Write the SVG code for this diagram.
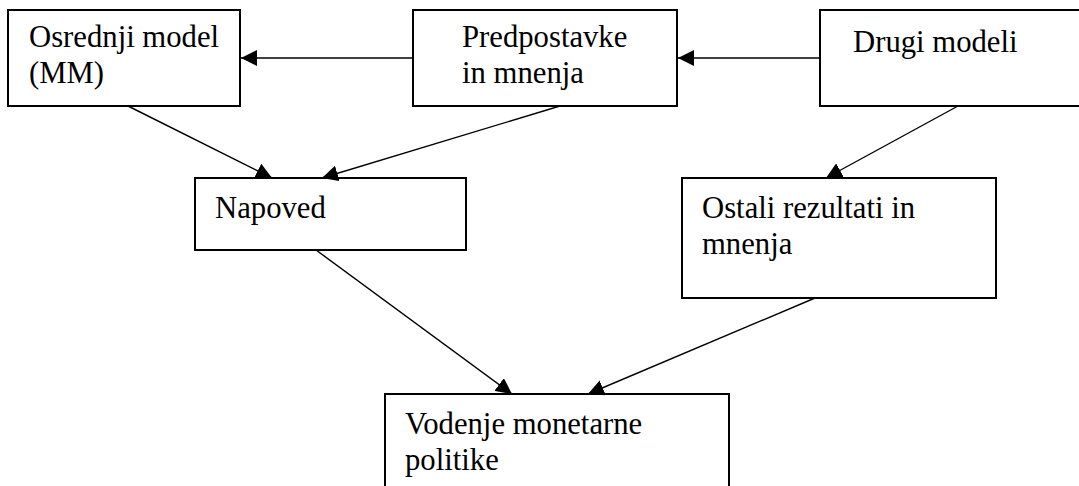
<svg xmlns="http://www.w3.org/2000/svg" width="1079" height="486" viewBox="0 0 1079 486">
<style>
.box{fill:#fff;stroke:#000;stroke-width:2}
.t{font-family:"Liberation Serif","Times New Roman",serif;font-size:30.7px;fill:#000}
.c{stroke:#000;stroke-width:1.4;fill:none;marker-end:url(#ah)}
</style>
<defs>
<marker id="ah" markerUnits="userSpaceOnUse" markerWidth="16" markerHeight="16" viewBox="0 0 15 15" refX="15" refY="7.5" orient="auto">
<path d="M0,0 L15,7.5 L0,15 z" fill="#000"/>
</marker>
</defs>
<g id="nodes">
<g id="osrednji"><rect class="box" x="8" y="10" width="232" height="96"/><text class="t" x="29" y="47">Osrednji model</text><text class="t" x="29" y="83">(MM)</text></g>
<g id="predpostavke"><rect class="box" x="413" y="10" width="264" height="96"/><text class="t" x="462" y="47">Predpostavke</text><text class="t" x="462" y="83">in mnenja</text></g>
<g id="drugi"><rect class="box" x="820" y="10" width="270" height="96"/><text class="t" x="853" y="52">Drugi modeli</text></g>
<g id="napoved"><rect class="box" x="195" y="178" width="271" height="72"/><text class="t" x="215" y="218">Napoved</text></g>
<g id="ostali"><rect class="box" x="682" y="178" width="314" height="120"/><text class="t" x="702" y="218">Ostali rezultati in</text><text class="t" x="702" y="254">mnenja</text></g>
<g id="vodenje"><rect class="box" x="385" y="394" width="344" height="110"/><text class="t" x="405" y="434">Vodenje monetarne</text><text class="t" x="405" y="470">politike</text></g>
</g>
<g id="connectors">
<line class="c" x1="413" y1="58" x2="241" y2="58"/>
<line class="c" x1="820" y1="58" x2="678" y2="58"/>
<line class="c" x1="128" y1="106" x2="272" y2="178"/>
<line class="c" x1="560" y1="106" x2="322" y2="178"/>
<line class="c" x1="958" y1="106" x2="826" y2="178"/>
<line class="c" x1="316" y1="250" x2="512" y2="394"/>
<line class="c" x1="815" y1="298" x2="588" y2="394"/>
</g>
</svg>
